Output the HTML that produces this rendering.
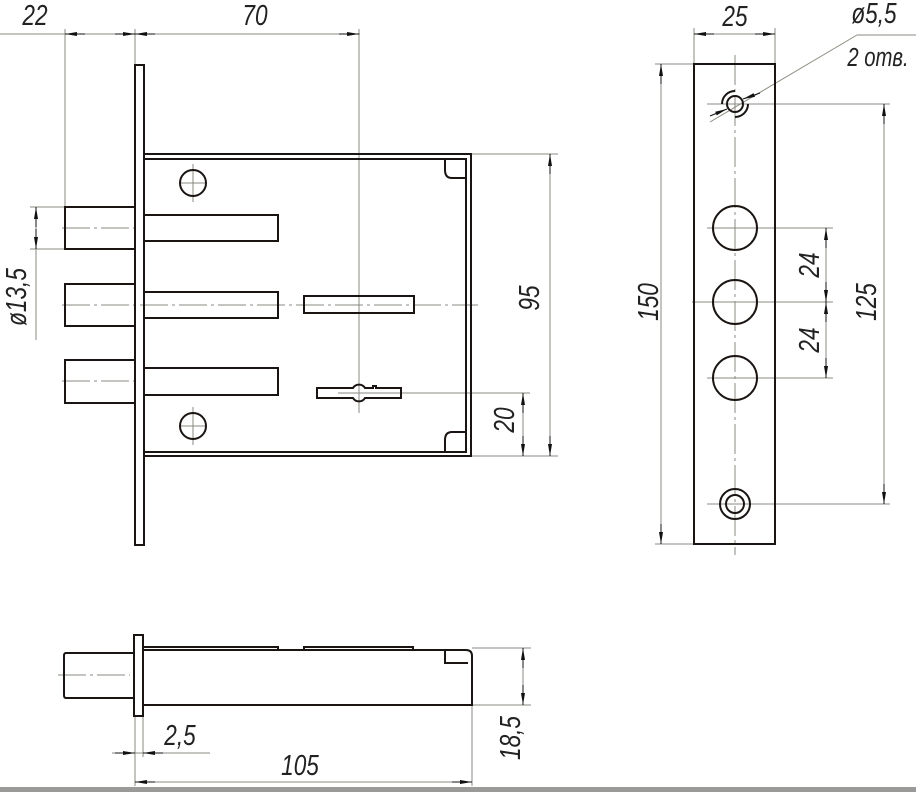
<!DOCTYPE html>
<html><head><meta charset="utf-8"><style>
html,body{margin:0;padding:0;background:#fff}
svg{display:block}
text{font-family:"Liberation Sans",sans-serif;font-style:italic;fill:#222}
</style></head><body>
<svg width="916" height="792" viewBox="0 0 916 792" xmlns="http://www.w3.org/2000/svg">
<defs>
<marker id="a" markerWidth="12" markerHeight="6" refX="12" refY="3" orient="auto" markerUnits="userSpaceOnUse"><path d="M0,1 L12,3 L0,5 Z" fill="#111"/></marker>
</defs>
<g stroke="#8a8a80" stroke-width="1" fill="none">
<line x1="0" y1="34" x2="360" y2="34"/>
<line x1="65" y1="29" x2="65" y2="207"/>
<line x1="135" y1="29" x2="135" y2="65"/>
<line x1="359" y1="29" x2="359" y2="413"/>
<line x1="30" y1="207" x2="65" y2="207"/>
<line x1="30" y1="249" x2="65" y2="249"/>
<line x1="36" y1="207" x2="36" y2="340"/>
<line x1="62" y1="305" x2="478" y2="305" stroke-dasharray="28,4,3,4"/>
<line x1="62" y1="228" x2="135" y2="228" stroke-dasharray="28,4,3,4"/>
<line x1="62" y1="381" x2="135" y2="381" stroke-dasharray="28,4,3,4"/>
<line x1="338" y1="393" x2="530" y2="393"/>
<line x1="471" y1="154" x2="558" y2="154"/>
<line x1="471" y1="456" x2="558" y2="456"/>
<line x1="550" y1="154" x2="550" y2="456"/>
<line x1="523" y1="393" x2="523" y2="456"/>
<line x1="180" y1="183" x2="206" y2="183"/><line x1="193" y1="164" x2="193" y2="202"/>
<line x1="180" y1="426" x2="206" y2="426"/><line x1="193" y1="407" x2="193" y2="445"/>
<line x1="694" y1="34" x2="775" y2="34"/>
<line x1="694" y1="28" x2="694" y2="64"/>
<line x1="775" y1="28" x2="775" y2="64"/>
<line x1="655" y1="64" x2="694" y2="64"/>
<line x1="655" y1="544" x2="694" y2="544"/>
<line x1="661" y1="64" x2="661" y2="544"/>
<line x1="735" y1="55" x2="735" y2="555" stroke-dasharray="30,4,3,4"/>
<line x1="707" y1="104" x2="890" y2="104"/>
<line x1="707" y1="504" x2="890" y2="504"/>
<line x1="884" y1="104" x2="884" y2="504"/>
<line x1="707" y1="228" x2="833" y2="228"/>
<line x1="692" y1="302" x2="833" y2="302"/>
<line x1="707" y1="378" x2="833" y2="378"/>
<line x1="826" y1="228" x2="826" y2="378"/>
<line x1="710" y1="122" x2="857" y2="35"/>
<line x1="857" y1="35" x2="916" y2="35"/>
<line x1="58" y1="675" x2="130" y2="675" stroke-dasharray="28,4,3,4"/>
<line x1="472" y1="648" x2="531" y2="648"/>
<line x1="472" y1="705" x2="531" y2="705"/>
<line x1="523" y1="648" x2="523" y2="705"/>
<line x1="135" y1="716" x2="135" y2="786"/>
<line x1="143" y1="716" x2="143" y2="757"/>
<line x1="472" y1="705" x2="472" y2="786"/>
<line x1="112" y1="753" x2="210" y2="753"/>
<line x1="135" y1="782" x2="472" y2="782"/>
</g>
<g stroke="#111" stroke-width="1" fill="none">
<line x1="85" y1="34" x2="65" y2="34" marker-end="url(#a)"/>
<line x1="115" y1="34" x2="135" y2="34" marker-end="url(#a)"/>
<line x1="155" y1="34" x2="135" y2="34" marker-end="url(#a)"/>
<line x1="339" y1="34" x2="359" y2="34" marker-end="url(#a)"/>
<line x1="36" y1="227" x2="36" y2="207" marker-end="url(#a)"/>
<line x1="36" y1="229" x2="36" y2="249" marker-end="url(#a)"/>
<line x1="550" y1="174" x2="550" y2="154" marker-end="url(#a)"/>
<line x1="550" y1="436" x2="550" y2="456" marker-end="url(#a)"/>
<line x1="523" y1="413" x2="523" y2="393" marker-end="url(#a)"/>
<line x1="523" y1="436" x2="523" y2="456" marker-end="url(#a)"/>
<line x1="714" y1="34" x2="694" y2="34" marker-end="url(#a)"/>
<line x1="755" y1="34" x2="775" y2="34" marker-end="url(#a)"/>
<line x1="661" y1="84" x2="661" y2="64" marker-end="url(#a)"/>
<line x1="661" y1="524" x2="661" y2="544" marker-end="url(#a)"/>
<line x1="884" y1="124" x2="884" y2="104" marker-end="url(#a)"/>
<line x1="884" y1="484" x2="884" y2="504" marker-end="url(#a)"/>
<line x1="826" y1="248" x2="826" y2="228" marker-end="url(#a)"/>
<line x1="826" y1="282" x2="826" y2="302" marker-end="url(#a)"/>
<line x1="826" y1="322" x2="826" y2="302" marker-end="url(#a)"/>
<line x1="826" y1="358" x2="826" y2="378" marker-end="url(#a)"/>
<line x1="760" y1="93" x2="743" y2="99" marker-end="url(#a)"/>
<line x1="710" y1="116" x2="727" y2="109" marker-end="url(#a)"/>
<line x1="523" y1="668" x2="523" y2="648" marker-end="url(#a)"/>
<line x1="523" y1="685" x2="523" y2="705" marker-end="url(#a)"/>
<line x1="115" y1="753" x2="135" y2="753" marker-end="url(#a)"/>
<line x1="163" y1="753" x2="143" y2="753" marker-end="url(#a)"/>
<line x1="155" y1="782" x2="135" y2="782" marker-end="url(#a)"/>
<line x1="452" y1="782" x2="472" y2="782" marker-end="url(#a)"/>
</g>
<g stroke="#1a1512" stroke-width="2" fill="none">
<rect x="135" y="65" width="9" height="480"/>
<path d="M144,154 H471 V456 H144"/>
<path d="M144,159 H466 V452 H144"/>
<path d="M466,178 H452 Q445,178 445,170 V159"/>
<path d="M466,432 H452 Q445,432 445,440 V452"/>
<path d="M135,207 H65 V249 H135"/>
<path d="M135,284 H65 V326 H135"/>
<path d="M135,360 H65 V403 H135"/>
<rect x="144" y="215" width="134" height="26"/>
<rect x="144" y="292" width="134" height="26"/>
<rect x="144" y="368" width="134" height="27"/>
<rect x="304" y="296" width="110" height="17"/>
<path d="M317,388 H353 A7,7 0 0 1 365,388 H373 V386 H376 V388 H401 V398 H365 A7,7 0 0 1 353,398 H317 Z"/>
<circle cx="193" cy="183" r="13"/>
<circle cx="193" cy="426" r="13"/>
<rect x="694" y="64" width="81" height="480"/>
<circle cx="735" cy="104" r="8"/>
<path d="M735,91 A13,13 0 0 0 722,104" />
<path d="M735,117 A13,13 0 0 0 748,104" />
<circle cx="735" cy="228" r="22"/>
<circle cx="735" cy="302" r="22"/>
<circle cx="735" cy="378" r="22"/>
<circle cx="735" cy="504" r="15"/>
<circle cx="735" cy="504" r="9"/>
<rect x="134" y="635" width="9" height="81"/>
<path d="M134,653 H66 Q64,653 64,656 V695 Q64,698 66,698 H134"/>
<path d="M143,650 H466 Q472,650 472,656 V705 H143"/>
<path d="M143,647 H278 V650 M304,650 V647 H413 V650"/>
<path d="M468,663 H445 V651"/>
</g>
<g font-size="29">
<text x="35" y="25" text-anchor="middle" transform="translate(35,0) scale(0.78,1) translate(-35,0)">22</text>
<text x="255" y="25" text-anchor="middle" transform="translate(255,0) scale(0.78,1) translate(-255,0)">70</text>
<text x="735" y="26" text-anchor="middle" transform="translate(735,0) scale(0.78,1) translate(-735,0)">25</text>
<text x="874" y="23" text-anchor="middle" transform="translate(874,0) scale(0.78,1) translate(-874,0)">ø5,5</text>
<text x="878" y="66" text-anchor="middle" font-size="26" transform="translate(878,0) scale(0.78,1) translate(-878,0)">2 отв.</text>
<text transform="translate(26,297) rotate(-90) scale(0.78,1)" text-anchor="middle">ø13,5</text>
<text transform="translate(539,298) rotate(-90) scale(0.78,1)" text-anchor="middle">95</text>
<text transform="translate(514,420) rotate(-90) scale(0.78,1)" text-anchor="middle">20</text>
<text transform="translate(658,302) rotate(-90) scale(0.78,1)" text-anchor="middle">150</text>
<text transform="translate(876,302) rotate(-90) scale(0.78,1)" text-anchor="middle">125</text>
<text transform="translate(819,265) rotate(-90) scale(0.78,1)" text-anchor="middle">24</text>
<text transform="translate(819,340) rotate(-90) scale(0.78,1)" text-anchor="middle">24</text>
<text transform="translate(520,738) rotate(-90) scale(0.78,1)" text-anchor="middle">18,5</text>
<text x="180" y="745" text-anchor="middle" transform="translate(180,0) scale(0.78,1) translate(-180,0)">2,5</text>
<text x="300" y="775" text-anchor="middle" transform="translate(300,0) scale(0.78,1) translate(-300,0)">105</text>
</g>
<rect x="0" y="787" width="916" height="5" fill="#9a9a98"/>
</svg>
</body></html>
